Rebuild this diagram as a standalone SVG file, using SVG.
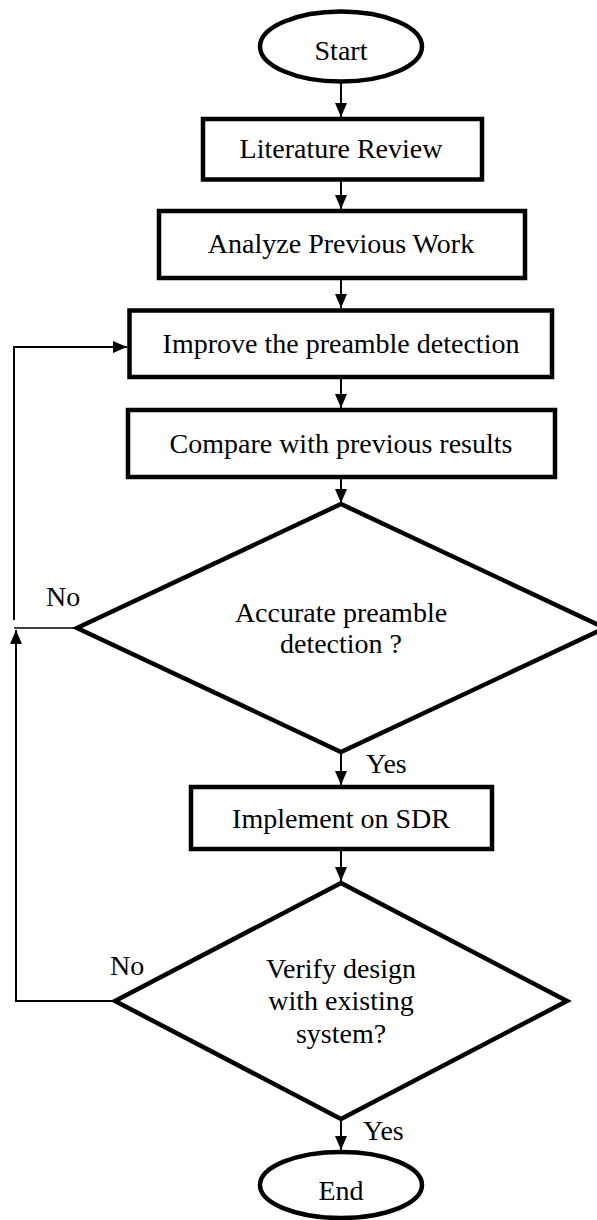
<svg xmlns="http://www.w3.org/2000/svg" width="597" height="1220" viewBox="0 0 597 1220">
<defs>
<style>
.shape{fill:#fff;stroke:#000;stroke-width:4.5;stroke-linejoin:miter}
.t{font-family:"Liberation Serif","Times New Roman",serif;font-size:28px;fill:#000;text-anchor:middle}
.lbl{font-family:"Liberation Serif","Times New Roman",serif;font-size:28px;fill:#000}
.c{fill:none;stroke:#000;stroke-width:2}
.thin{fill:none;stroke:#000;stroke-width:1.4}
</style>
<marker id="ah" viewBox="0 0 14 12" refX="14" refY="6" markerWidth="14" markerHeight="12" markerUnits="userSpaceOnUse" orient="auto">
<path d="M0,0 L14,6 L0,12 Z" fill="#000"/>
</marker>
</defs>
<rect width="597" height="1220" fill="#fff"/>
<g id="connectors">
<line class="c" x1="341" y1="82" x2="341" y2="117" marker-end="url(#ah)"/>
<line class="c" x1="341" y1="180" x2="341" y2="209" marker-end="url(#ah)"/>
<line class="c" x1="341" y1="278" x2="341" y2="308" marker-end="url(#ah)"/>
<line class="c" x1="341" y1="377" x2="341" y2="408" marker-end="url(#ah)"/>
<line class="c" x1="341" y1="477" x2="341" y2="503" marker-end="url(#ah)"/>
<line class="c" x1="341" y1="752" x2="341" y2="785" marker-end="url(#ah)"/>
<line class="c" x1="341" y1="849" x2="341" y2="881" marker-end="url(#ah)"/>
<line class="c" x1="341" y1="1119" x2="341" y2="1150" marker-end="url(#ah)"/>
<line class="thin" x1="77" y1="628" x2="14" y2="628"/>
<polyline class="c" points="14,620 14,347 127,347" marker-end="url(#ah)"/>
<polyline class="c" points="115,1001 16,1001 16,630" marker-end="url(#ah)"/>
<text class="lbl" x="46" y="606">No</text>
<text class="lbl" x="366" y="773">Yes</text>
<text class="lbl" x="110" y="975">No</text>
<text class="lbl" x="363" y="1140">Yes</text>
</g>
<g id="start">
<ellipse class="shape" cx="341" cy="46.5" rx="81" ry="35"/>
<text class="t" x="341" y="60">Start</text>
</g>
<g id="literature">
<rect class="shape" x="203" y="119" width="279" height="60.5"/>
<text class="t" x="341" y="158">Literature Review</text>
</g>
<g id="analyze">
<rect class="shape" x="159" y="211" width="366" height="67"/>
<text class="t" x="341" y="253">Analyze Previous Work</text>
</g>
<g id="improve">
<rect class="shape" x="129.5" y="310.5" width="422.5" height="66.5"/>
<text class="t" x="341" y="353">Improve the preamble detection</text>
</g>
<g id="compare">
<rect class="shape" x="128" y="410" width="427" height="67"/>
<text class="t" x="341" y="453">Compare with previous results</text>
</g>
<g id="decision1">
<polygon class="shape" points="341,504 605,628 341,752 77,628"/>
<text class="t" x="341" y="622">Accurate preamble</text>
<text class="t" x="341" y="653">detection ?</text>
</g>
<g id="implement">
<rect class="shape" x="191" y="787" width="301" height="62"/>
<text class="t" x="341" y="828">Implement on SDR</text>
</g>
<g id="decision2">
<polygon class="shape" points="341,883 567,1001 341,1119 115,1001"/>
<text class="t" x="341" y="978">Verify design</text>
<text class="t" x="341" y="1010">with existing</text>
<text class="t" x="341" y="1043">system?</text>
</g>
<g id="end">
<ellipse class="shape" cx="341" cy="1185" rx="81" ry="33"/>
<text class="t" x="341" y="1200">End</text>
</g>
</svg>
